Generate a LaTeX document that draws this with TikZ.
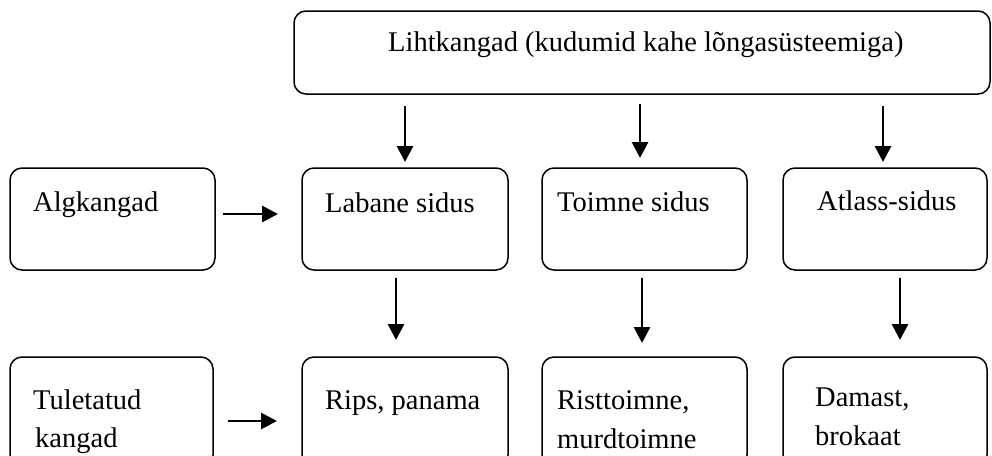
\documentclass[tikz,border=0pt]{standalone}
\usepackage{fontspec}
\setmainfont{Liberation Serif}
\usetikzlibrary{arrows.meta}
\begin{document}
\begin{tikzpicture}[x=1pt,y=-1pt,
  box/.style={draw,line width=1.5pt,rounded corners=12pt,inner sep=0pt,outer sep=0pt},
  lbl/.style={anchor=base west,inner sep=0pt,font=\fontsize{28.5}{34}\selectfont},
  arr/.style={line width=2.9pt,-{Triangle[width=16pt,length=16pt]}}]
\useasboundingbox (0,0) rectangle (992,455);
\clip (0,0) rectangle (992,455);
% boxes
\node[box,minimum width=696pt,minimum height=83pt] (top) at (642,52.5) {};
\node[box,minimum width=205pt,minimum height=102pt] (alg) at (112.5,219) {};
\node[box,minimum width=206pt,minimum height=102pt] (lab) at (405,219) {};
\node[box,minimum width=205pt,minimum height=102pt] (toi) at (644.5,219) {};
\node[box,minimum width=204pt,minimum height=102pt] (atl) at (885,219) {};
\node[box,minimum width=203pt,minimum height=110pt] (tul) at (111.5,412) {};
\node[box,minimum width=206pt,minimum height=110pt] (rips) at (405,412) {};
\node[box,minimum width=205pt,minimum height=110pt] (ris) at (644.5,412) {};
\node[box,minimum width=204pt,minimum height=110pt] (dam) at (885,412) {};
% texts
\node[lbl] (ttop) at (388,51) {Lihtkangad (kudumid kahe lõngasüsteemiga)};
\node[lbl] (talg) at (33,211) {Algkangad};
\node[lbl] (tlab) at (325,212) {Labane sidus};
\node[lbl] (ttoi) at (557,211) {Toimne sidus};
\node[lbl] (tatl) at (817,210) {Atlass-sidus};
\node[lbl] (ttul1) at (33,409) {Tuletatud};
\node[lbl] (ttul2) at (35,447) {kangad};
\node[lbl] (trips) at (325,409) {Rips, panama};
\node[lbl] (tris1) at (557,409) {Risttoimne,};
\node[lbl] (tris2) at (557,448) {murdtoimne};
\node[lbl] (tdam1) at (815,406) {Damast,};
\node[lbl] (tdam2) at (815,445) {brokaat};
% arrows from top
\draw[arr,shorten <=12pt,shorten >=6pt] (top.south -| lab.north) -- (lab.north);
\draw[arr,shorten <=10pt,shorten >=10pt] ([xshift=-4.5pt]top.south -| toi.north) -- ([xshift=-4.5pt]toi.north);
\draw[arr,shorten <=12pt,shorten >=6pt] ([xshift=-2pt]top.south -| atl.north) -- ([xshift=-2pt]atl.north);
% arrows down
\draw[arr,shorten <=8pt,shorten >=17pt] ([xshift=-9pt]lab.south) -- ([xshift=-9pt]rips.north);
\draw[arr,shorten <=8pt,shorten >=14pt] ([xshift=-2.5pt]toi.south) -- ([xshift=-2.5pt]ris.north);
\draw[arr,shorten <=8pt,shorten >=17pt] ([xshift=15pt]atl.south) -- ([xshift=15pt]dam.north);
% horizontal arrows
\draw[arr,shorten <=8pt,shorten >=24pt] ([yshift=5pt]alg.east) -- ([yshift=5pt]alg.east -| lab.west);
\draw[arr,shorten <=15pt,shorten >=25pt] ([yshift=-9pt]tul.east) -- ([yshift=-9pt]tul.east -| rips.west);
\end{tikzpicture}
\end{document}
